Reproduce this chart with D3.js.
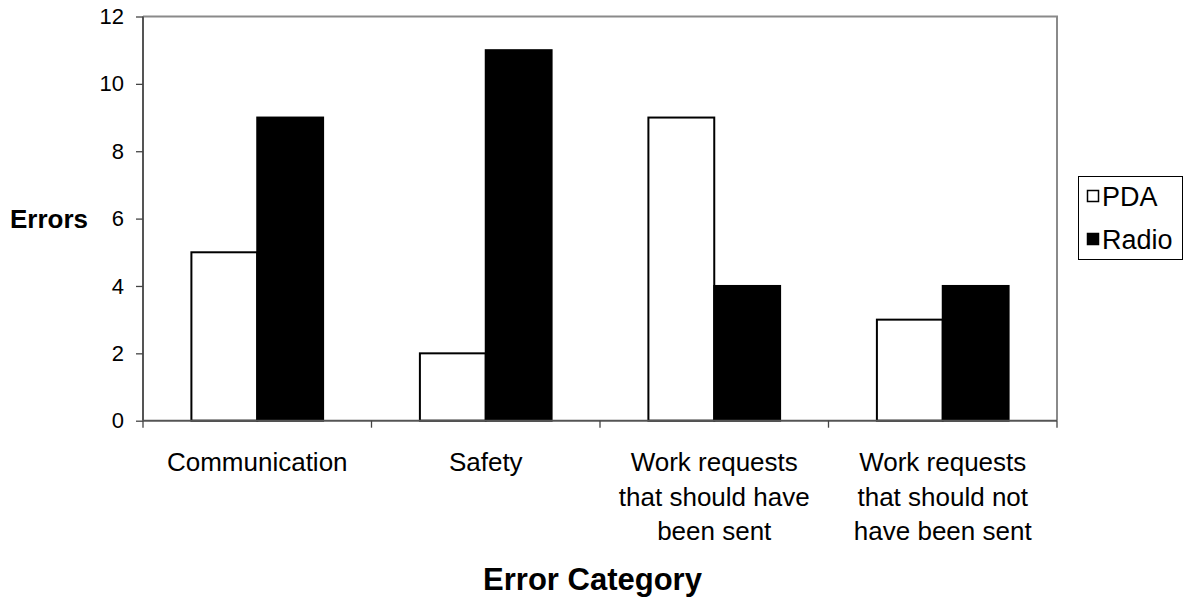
<!DOCTYPE html>
<html>
<head>
<meta charset="utf-8">
<script src="https://cdn.jsdelivr.net/npm/d3@7"></script>
<style>
  html, body { margin: 0; padding: 0; background: #fff; }
  svg { display: block; font-family: "Liberation Sans", Arial, sans-serif; }
</style>
</head>
<body>
<svg id="chart" width="1184" height="598"></svg>
<script>
// Error counts per category, PDA vs Radio
const categories = [
  ["Communication"],
  ["Safety"],
  ["Work requests", "that should have", "been sent"],
  ["Work requests", "that should not", "have been sent"]
];
const categoryKeys = ["Communication", "Safety", "Should have been sent", "Should not have been sent"];
const seriesNames = ["PDA", "Radio"];
const pdaValues = [5, 2, 9, 3];
const radioValues = [9, 11, 4, 4];
const yTicks = [0, 2, 4, 6, 8, 10, 12];

const svg = d3.select("#chart");
const plot = { left: 143, right: 1057, top: 16.5, bottom: 420.7 };

const x = d3.scaleBand().domain(categoryKeys).range([plot.left, plot.right]).padding(0);
const xs = d3.scaleBand().domain(seriesNames).range([0, x.bandwidth()]).paddingInner(0).paddingOuter(0.735);
const y = d3.scaleLinear().domain([0, 12]).range([plot.bottom, plot.top]);

const seriesValues = { PDA: pdaValues, Radio: radioValues };
const fills = { PDA: "#ffffff", Radio: "#000000" };

// plot frame: grey top/right border
svg.append("path")
  .attr("d", `M${plot.left},${plot.top}H${plot.right}V${plot.bottom}`)
  .attr("fill", "none").attr("stroke", "#8a8a8a").attr("stroke-width", 2);

// bars
const rows = [];
categoryKeys.forEach((c, i) => seriesNames.forEach(s => rows.push({ c, s, v: seriesValues[s][i] })));
svg.append("g").selectAll("rect").data(rows).join("rect")
  .attr("x", d => x(d.c) + xs(d.s))
  .attr("y", d => y(d.v))
  .attr("width", xs.bandwidth())
  .attr("height", d => y(0) - y(d.v))
  .attr("fill", d => fills[d.s])
  .attr("stroke", "#000").attr("stroke-width", 2);

// y axis
const yAxis = svg.append("g").attr("transform", `translate(${plot.left},0)`)
  .call(d3.axisLeft(y).tickValues(yTicks).tickSize(7).tickPadding(12).tickFormat(d3.format("d")));
yAxis.select(".domain").attr("stroke", "#555").attr("stroke-width", 2).attr("d", `M0,${plot.top}V${plot.bottom}`);
yAxis.selectAll(".tick line").attr("stroke", "#444").attr("stroke-width", 1.3);
yAxis.selectAll(".tick text").attr("font-size", 22).attr("fill", "#000")
  .attr("font-family", "Liberation Sans, Arial, sans-serif");

// x axis: line plus ticks at category boundaries
const xAxis = svg.append("g");
xAxis.append("line").attr("x1", plot.left).attr("x2", plot.right)
  .attr("y1", plot.bottom).attr("y2", plot.bottom)
  .attr("stroke", "#555").attr("stroke-width", 2);
const boundaries = categoryKeys.map(c => x(c)).concat([x(categoryKeys[categoryKeys.length - 1]) + x.bandwidth()]);
xAxis.selectAll("line.tk").data(boundaries).join("line").attr("class", "tk")
  .attr("x1", d => d).attr("x2", d => d)
  .attr("y1", plot.bottom).attr("y2", plot.bottom + 7)
  .attr("stroke", "#444").attr("stroke-width", 1.3);

// category labels
const catLabels = svg.append("g").selectAll("text").data(categoryKeys).join("text")
  .attr("x", d => x(d) + x.bandwidth() / 2)
  .attr("y", 471)
  .attr("text-anchor", "middle")
  .attr("font-size", 26).attr("fill", "#000");
catLabels.each(function (d, i) {
  d3.select(this).selectAll("tspan").data(categories[i]).join("tspan")
    .attr("x", x(d) + x.bandwidth() / 2)
    .attr("dy", (t, j) => j === 0 ? 0 : 34.5)
    .text(t => t);
});

// axis titles
svg.append("text").attr("x", 10).attr("y", 227.5)
  .attr("font-size", 26).attr("font-weight", "bold").text("Errors");
svg.append("text").attr("x", 592.5).attr("y", 590)
  .attr("text-anchor", "middle")
  .attr("font-size", 31).attr("font-weight", "bold").text("Error Category");

// legend
const legend = svg.append("g");
legend.append("rect").attr("x", 1078.5).attr("y", 176.5).attr("width", 104).attr("height", 83)
  .attr("fill", "#fff").attr("stroke", "#000").attr("stroke-width", 1);
const items = legend.selectAll("g.item").data(seriesNames).join("g").attr("class", "item")
  .attr("transform", (d, i) => `translate(1087,${196 + i * 43})`);
items.append("rect").attr("x", 0.5).attr("y", -5.5).attr("width", 11).attr("height", 11)
  .attr("fill", d => fills[d]).attr("stroke", "#000").attr("stroke-width", 1.5);
items.append("text").attr("x", 15).attr("y", 9.5)
  .attr("font-size", 27).attr("fill", "#000").text(d => d);
</script>
</body>
</html>
